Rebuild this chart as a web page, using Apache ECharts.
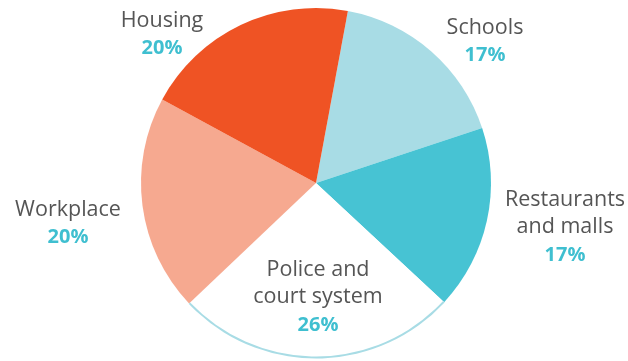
<!DOCTYPE html>
<html>
<head>
<meta charset="utf-8">
<script src="https://cdn.jsdelivr.net/npm/echarts@6/dist/echarts.min.js"></script>
<style>
  html, body { margin: 0; padding: 0; background: #ffffff; }
  #chart { width: 628px; height: 361px; }
</style>
</head>
<body>
<div id="chart"></div>
<script>
// Shares of reported discrimination by setting
const categories = ['Schools', 'Restaurants\nand malls', 'Police and\ncourt system', 'Workplace', 'Housing'];
const shares = [17, 17, 26, 20, 20];
const sliceColors = ['#a8dce5', '#47c3d3', '#ffffff', '#f6a990', '#ef5324'];

// Label anchor points (block centres), in pixels
const labelSpots = [
  [485, 42], [565, 228], [318, 298], [68, 224], [162, 35]
];

const center = [316, 183];
const radius = 175;

const chart = echarts.init(document.getElementById('chart'), null, { renderer: 'canvas' });

chart.setOption({
  animation: false,
  backgroundColor: '#ffffff',
  series: [
    {
      type: 'pie',
      center: center,
      radius: [0, radius],
      startAngle: 79.5,
      clockwise: true,
      silent: true,
      data: categories.map((c, i) => ({
        name: c,
        value: shares[i],
        itemStyle: { color: sliceColors[i] }
      })),
      itemStyle: { borderWidth: 0 },
      labelLine: { show: false },
      label: {
        show: true,
        position: 'inside',
        overflow: 'none',
        formatter: p => '{n|' + p.name.split('\n').join('}\n{n|') + '}\n{p|' + p.value + '%}',
        align: 'center',
        rich: {
          n: { fontFamily: 'Open Sans', fontSize: 21.5, color: '#555555', lineHeight: 27, align: 'center' },
          p: { fontFamily: 'Open Sans', fontSize: 20, fontWeight: 'bold', color: '#3fbfd0', lineHeight: 29, align: 'center' }
        }
      },
      labelLayout: p => ({
        x: labelSpots[p.dataIndex][0],
        y: labelSpots[p.dataIndex][1],
        align: 'center',
        verticalAlign: 'middle'
      })
    },
    {
      // thin outline along the rim of the white slice
      type: 'pie',
      center: center,
      radius: [radius - 1.5, radius + 0.5],
      startAngle: 79.5,
      clockwise: true,
      silent: true,
      label: { show: false },
      labelLine: { show: false },
      data: categories.map((c, i) => ({
        name: c,
        value: shares[i],
        itemStyle: { color: i === 2 ? '#a8dce5' : 'rgba(0,0,0,0)' }
      }))
    }
  ]
});
</script>
</body>
</html>
